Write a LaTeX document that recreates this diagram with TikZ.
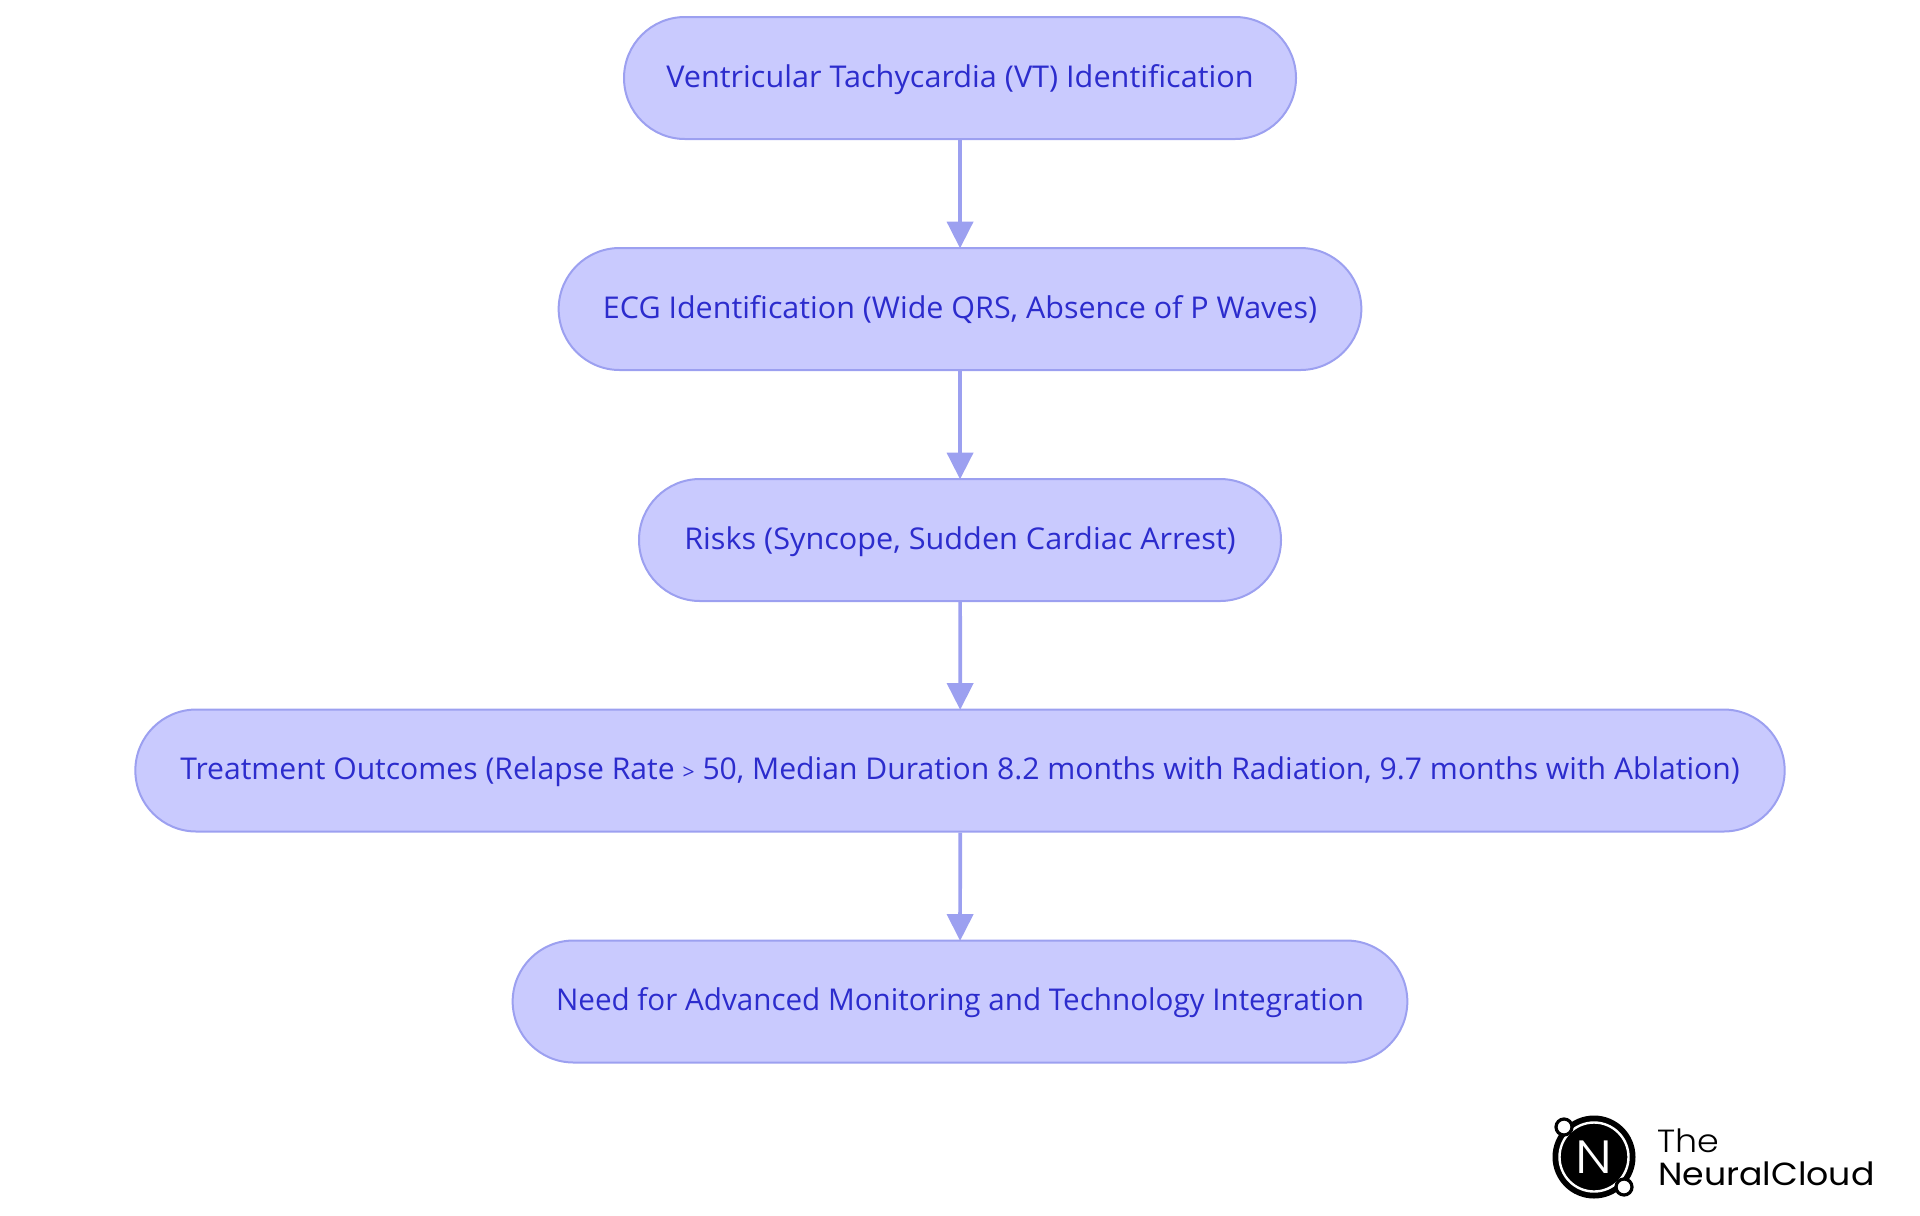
\documentclass[tikz,border=0pt]{standalone}
\usepackage{fontspec}
\usepackage{graphicx}
\setmainfont{Open Sans}
\newfontfamily\logolight{Poppins}[UprightFont=* Light]
\newfontfamily\logoreg{Poppins}
\usetikzlibrary{arrows.meta,shapes.misc}
\definecolor{boxfill}{RGB}{201,202,254}
\definecolor{boxline}{RGB}{156,160,240}
\definecolor{boxtext}{RGB}{44,44,205}
\newcommand{\widen}[2]{\scalebox{#1}[1]{#2}}
\tikzset{
  flowbox/.style={draw=boxline,fill=boxfill,line width=1.5pt,rounded rectangle,rounded rectangle arc length=180,
    minimum height=91.5pt,inner xsep=0pt,inner ysep=0pt,text=boxtext,font=\fontsize{22.5pt}{27pt}\selectfont,
    text height=13.5pt,text depth=0pt,align=center},
  flowedge/.style={draw=boxline,line width=2.8pt,-{Triangle[width=19.5pt,length=20pt]},shorten >=-1pt},
  logotext/.style={anchor=base west,inner sep=0pt,text=black},
}
\begin{document}
\begin{tikzpicture}[x=0.75pt,y=-0.75pt]
\useasboundingbox (0,0) rectangle (1920,1215);
\node[flowbox,minimum width=504pt] (a) at (960,78) {\widen{1.021}{Ventricular Tachycardia (VT) Identification}};
\node[flowbox,minimum width=602pt] (b) at (960,309) {\widen{1.015}{ECG Identification (Wide QRS, Absence of P Waves)}};
\node[flowbox,minimum width=481.5pt] (c) at (960,540) {\widen{1.021}{Risks (Syncope, Sudden Cardiac Arrest)}};
\node[flowbox,minimum width=1237pt] (d) at (960,770.5) {\widen{1.004}{Treatment Outcomes (Relapse Rate \scalebox{0.7}{>} 50, Median Duration 8.2 months with Radiation, 9.7 months with Ablation)}};
\node[flowbox,minimum width=671pt] (e) at (960,1001.5) {\widen{0.987}{Need for Advanced Monitoring and Technology Integration}};
\draw[flowedge] (a) -- (b);
\draw[flowedge] (b) -- (c);
\draw[flowedge] (c) -- (d);
\draw[flowedge] (d) -- (e);
% logo
\fill[black] (1594,1157) circle[radius=41.5];
\draw[white,line width=1.8pt] (1594,1157) circle[radius=34.5];
\node[inner sep=0pt,text=white,font=\logolight\fontsize{35pt}{35pt}\selectfont] (logoN) at (1594,1157) {\widen{1.15}{N}};
\draw[black,fill=white,line width=2.4pt] (1564,1127) circle[radius=8] (1624,1187) circle[radius=8];
\node[logotext,font=\logolight\fontsize{24pt}{24pt}\selectfont] (logoA) at (1657,1152) {\widen{1.09}{The}};
\node[logotext,font=\logoreg\fontsize{24pt}{24pt}\selectfont] (logoB) at (1658,1185) {\widen{1.085}{NeuralCloud}};
\end{tikzpicture}
\end{document}
